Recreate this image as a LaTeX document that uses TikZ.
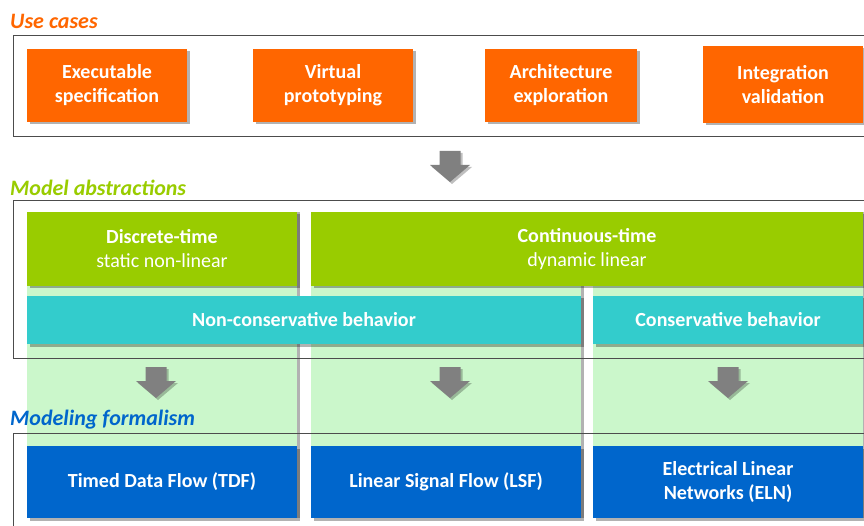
\documentclass[tikz,border=0pt]{standalone}
\usepackage{fontspec}
\setmainfont{Carlito}
\usetikzlibrary{shadows,positioning}
\definecolor{caseorange}{HTML}{FF6600}
\definecolor{absgreen}{HTML}{99CC00}
\definecolor{coltint}{HTML}{CBF7CB}
\definecolor{behteal}{HTML}{33CCCC}
\definecolor{formblue}{HTML}{0066CC}
\definecolor{arrowgray}{HTML}{808080}

\begin{document}
\begin{tikzpicture}[x=1pt, y=-1pt,
    softshadow/.style={drop shadow={shadow xshift=2.5pt, shadow yshift=-2.5pt, opacity=0.3, fill=black}},
    usecase/.style={rectangle, fill=caseorange, softshadow, text=white, align=center, inner sep=0pt, minimum height=73pt, font=\fontsize{20}{24}\selectfont\bfseries},
    timebox/.style={rectangle, fill=absgreen, softshadow, text=white, align=center, inner sep=0pt, minimum height=74pt, font=\fontsize{20}{24}\selectfont},
    behavior/.style={rectangle, fill=behteal, softshadow, text=white, align=center, inner sep=0pt, minimum height=48pt, font=\fontsize{20}{24}\selectfont\bfseries},
    formalism/.style={rectangle, fill=formblue, softshadow, text=white, align=center, inner sep=0pt, minimum height=72pt, font=\fontsize{20}{24}\selectfont\bfseries},
    column/.style={rectangle, fill=coltint, inner sep=0pt, minimum height=306pt, drop shadow={shadow xshift=3pt, shadow yshift=0pt, opacity=0.3, fill=black}},
    frame/.style={draw=black!70, line width=1pt},
    layer/.style={anchor=base west, inner sep=0pt, font=\fontsize{22}{24}\selectfont\bfseries\itshape},
    blockarrow/.pic={
      \fill[arrowgray, drop shadow={shadow xshift=2pt, shadow yshift=-2pt, opacity=0.25, fill=black}]
        (-10.5,0) -- (10.5,0) -- (10.5,14) -- (20,14) -- (0,31) -- (-20,14) -- (-10.5,14) -- cycle;
    }
  ]
  \useasboundingbox (0,0) rectangle (864,526);

  % light backgrounds behind the three columns
  \node[column, minimum width=270pt] (col1) at (162,365) {};
  \node[column, minimum width=270pt] (col2) at (446,365) {};
  \node[column, minimum width=270pt] (col3) at (728,365) {};

  % layer frames
  \draw[frame] (13,36) rectangle (880,137);
  \draw[frame] (13,201) rectangle (880,358);
  \draw[frame] (13,433) rectangle (880,540);

  % use cases
  \node[usecase, minimum width=160pt] (spec) at (107,85.5) {Executable\\specification};
  \node[usecase, minimum width=160pt] (proto) at (333,85.5) {Virtual\\prototyping};
  \node[usecase, minimum width=152pt] (explore) at (561,85.5) {Architecture\\exploration};
  \node[usecase, minimum width=160pt, minimum height=77pt] (integ) at (783,84.5) {Integration\\validation};

  % model abstractions
  \node[timebox, minimum width=270pt] (discrete) at (162,249) {\textbf{Discrete-time}\\static non-linear};
  \node[timebox, minimum width=552pt] (continuous) at (587,249) {\textbf{Continuous-time}\\dynamic linear};
  \node[behavior, minimum width=554pt] (noncons) at (304,320) {Non-conservative behavior};
  \node[behavior, minimum width=270pt] (cons) at (728,320) {Conservative behavior};

  % modeling formalisms
  \node[formalism, minimum width=270pt] (tdf) at (162,482) {Timed Data Flow (TDF)};
  \node[formalism, minimum width=270pt] (lsf) at (446,482) {Linear Signal Flow (LSF)};
  \node[formalism, minimum width=270pt] (eln) at (728,482) {Electrical Linear\\Networks (ELN)};

  % arrows between the layers
  \pic (down0) at (450,151) {blockarrow};
  \pic (down1) at (156,367) {blockarrow};
  \pic (down2) at (450,367) {blockarrow};
  \pic (down3) at (728,367) {blockarrow};

  % layer titles
  \node[layer, text=caseorange] (usetitle) at (10,29) {Use cases};
  \node[layer, text=absgreen] (abstitle) at (10,196) {Model abstractions};
  \node[layer, text=formblue] (formtitle) at (10,425) {Modeling formalism};
\end{tikzpicture}
\end{document}
